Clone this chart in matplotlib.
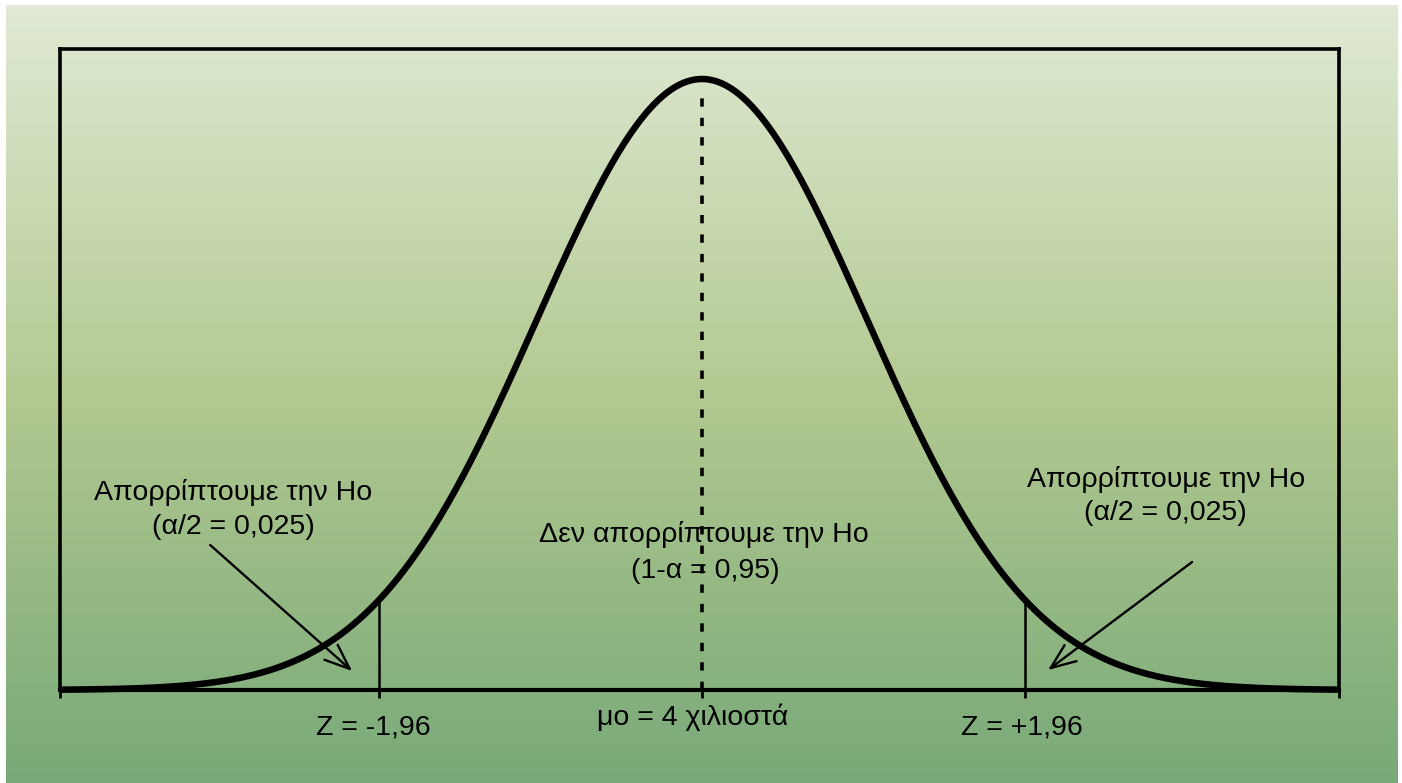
import numpy as np
import matplotlib
matplotlib.use('Agg')
from matplotlib import pyplot as plt
from matplotlib.colors import LinearSegmentedColormap

plt.rcParams['font.family'] = ['Liberation Sans', 'DejaVu Sans']
plt.rcParams['lines.scale_dashes'] = False

# τυπική κανονική κατανομή, σε μονάδες Z
mu = 0.0
z_crit = [-1.96, 1.96]
x_range = (-3.89, 3.86)

# ετικέτες
tick_labels = ['Z = -1,96', 'μο = 4 χιλιοστά', 'Z = +1,96']
reject_text = ['Απορρίπτουμε την Ho', '(α/2 = 0,025)']
accept_text = ['Δεν απορρίπτουμε την Ho', '(1-α = 0,95)']

# χρώματα φόντου (πάνω, μέση, κάτω)
bg_colors = ['#e0ead4', '#b3c991', '#78a978']


def pdf(x):
    return np.exp(-0.5 * x ** 2) / np.sqrt(2 * np.pi)


W, H = 1402, 783
fig = plt.figure(figsize=(W / 100, H / 100), dpi=100)
fig.patch.set_facecolor('white')

# φόντο με διαβάθμιση
bg = fig.add_axes([6 / W, 0, (1398 - 6) / W, 1 - 5 / H])
cmap = LinearSegmentedColormap.from_list('bg', bg_colors)
grad = np.linspace(0, 1, 256).reshape(-1, 1)
bg.imshow(grad, cmap=cmap, aspect='auto', extent=[0, 1, 1, 0])
bg.axis('off')

# κύριοι άξονες
left, right, top, base = 60, 1339, 49, 690
ax = fig.add_axes([left / W, 1 - base / H, (right - left) / W, (base - top) / H])
ax.patch.set_alpha(0)
ymax = pdf(0) * (base - top) / (base - 79)
ax.set_xlim(*x_range)
ax.set_ylim(0, ymax)
for s in ['left', 'right', 'top']:
    ax.spines[s].set_linewidth(2.6)
ax.spines['bottom'].set_linewidth(3)
ax.set_yticks([])
ax.set_xticks([x_range[0], z_crit[0], mu, z_crit[1], x_range[1]])
ax.tick_params(axis='x', direction='out', length=6, width=2, labelbottom=False)

# καμπύλη
x = np.linspace(x_range[0], x_range[1], 600)
ax.plot(x, pdf(x), color='black', lw=4.7, solid_capstyle='butt', clip_on=False)

# κρίσιμες τιμές και μέσος
for z in z_crit:
    ax.plot([z, z], [0, pdf(z)], color='black', lw=1.8)
ax.plot([mu, mu], [0, pdf(mu) - 0.01], color='black', lw=2.6, dashes=(6, 8))

px = pdf(0) / (base - 79)  # ύψος ενός pixel σε μονάδες y
fs = 20.5

# ετικέτες κάτω από τον άξονα
ax.text(z_crit[0] - 0.03, -(734 - base) * px, tick_labels[0], ha='center', va='baseline', fontsize=fs)
ax.text(mu - 0.055, -(725 - base) * px, tick_labels[1], ha='center', va='baseline', fontsize=fs)
ax.text(z_crit[1] - 0.024, -(734 - base) * px, tick_labels[2], ha='center', va='baseline', fontsize=fs)

# περιοχές απόρριψης / αποδοχής
ax.text(-2.84, (base - 500) * px, reject_text[0], ha='center', va='baseline', fontsize=fs)
ax.text(-2.84, (base - 534) * px, reject_text[1], ha='center', va='baseline', fontsize=fs)
ax.text(2.81, (base - 487) * px, reject_text[0], ha='center', va='baseline', fontsize=fs)
ax.text(2.81, (base - 520) * px, reject_text[1], ha='center', va='baseline', fontsize=fs)
ax.text(0.01, (base - 542) * px, accept_text[0], ha='center', va='baseline', fontsize=fs)
ax.text(0.02, (base - 578) * px, accept_text[1], ha='center', va='baseline', fontsize=fs)

# βέλη
arrow = dict(arrowstyle='->,head_length=1.5,head_width=0.6', color='black', lw=1.7,
             mutation_scale=12, shrinkA=0, shrinkB=0)
ax.annotate('', xy=(-2.12, (base - 671) * px), xytext=(-2.98, (base - 545) * px), arrowprops=arrow)
ax.annotate('', xy=(2.097, (base - 670) * px), xytext=(2.97, (base - 562) * px), arrowprops=arrow)

plt.savefig('out.png', dpi=100)
